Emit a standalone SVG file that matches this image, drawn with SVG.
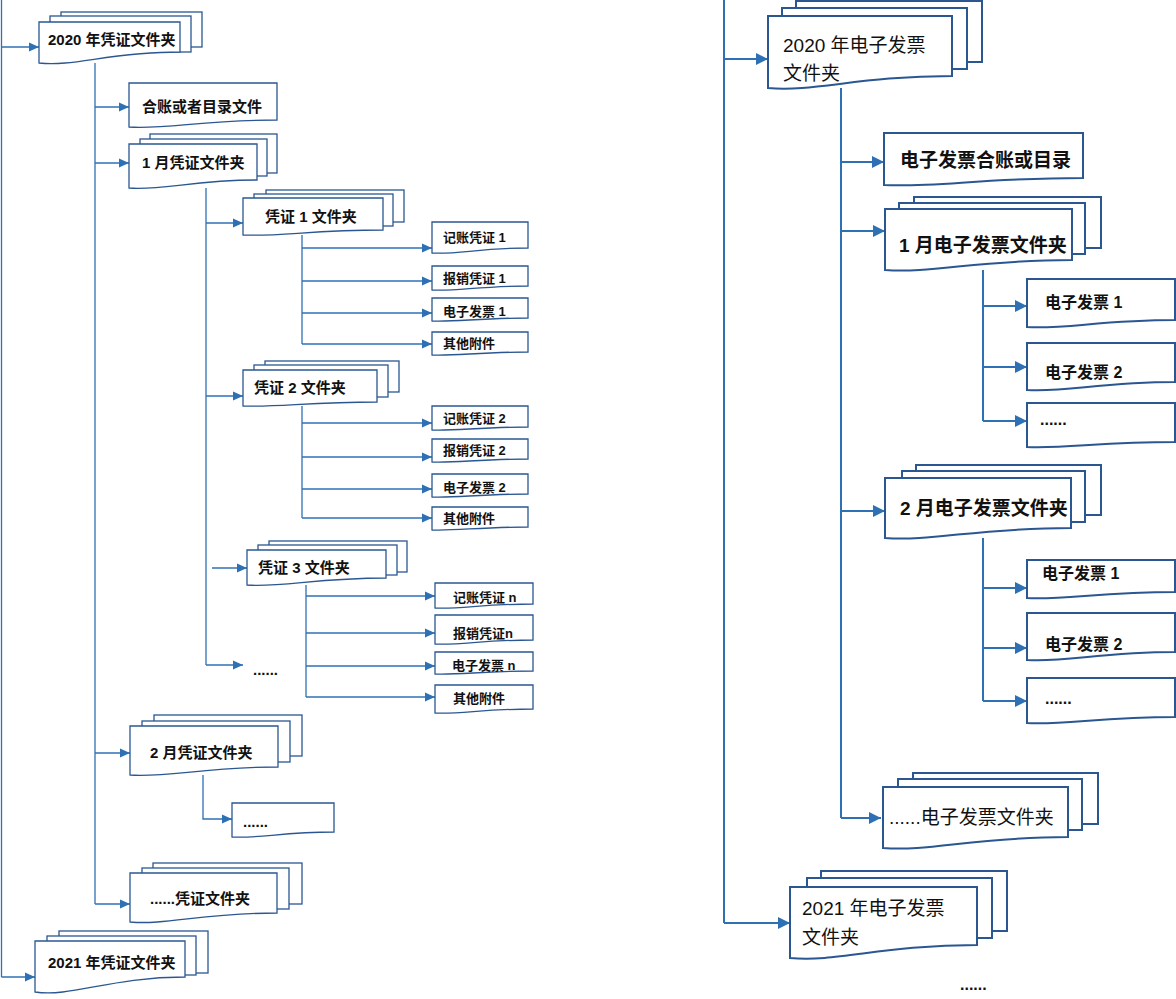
<svg xmlns="http://www.w3.org/2000/svg" width="1176" height="999" viewBox="0 0 1176 999">
<defs>
<style>
.b{fill:#fff;stroke:#2a5792;stroke-width:1.3}
.B{fill:#fff;stroke:#2a5792;stroke-width:2}
.c{fill:none;stroke:#2e70b4;stroke-width:1.3}
.C{fill:none;stroke:#2e70b4;stroke-width:2}
text{font-family:"Liberation Sans","Noto Sans CJK SC",sans-serif;fill:#111}
.s15{font-size:15px;font-weight:bold}
.s13{font-size:13px;font-weight:bold}
.s19{font-size:19px;font-weight:bold}
.r19{font-size:19px}
.s16{font-size:16px;font-weight:bold}
</style>
<marker id="a" markerUnits="userSpaceOnUse" markerWidth="11" markerHeight="10" refX="10" refY="5" orient="auto"><path d="M0,0.5 L10,5 L0,9.5 Z" fill="#2e70b4"/></marker>
<marker id="A" markerUnits="userSpaceOnUse" markerWidth="13" markerHeight="13" refX="12" refY="6.5" orient="auto"><path d="M0,0.5 L12,6.5 L0,12.5 Z" fill="#2e70b4"/></marker>
</defs>

<g id="connectors">
<path class="c" d="M1.5,0 V977"/>
<path class="c" d="M1.5,47 H39" marker-end="url(#a)"/>
<path class="c" d="M1.5,977 H35" marker-end="url(#a)"/>
<path class="c" d="M95,63 V904"/>
<path class="c" d="M95,107 H129" marker-end="url(#a)"/>
<path class="c" d="M95,163 H129" marker-end="url(#a)"/>
<path class="c" d="M95,753 H130" marker-end="url(#a)"/>
<path class="c" d="M95,904 H130" marker-end="url(#a)"/>
<path class="c" d="M206,188 V665"/>
<path class="c" d="M206,223 H243" marker-end="url(#a)"/>
<path class="c" d="M206,396 H243" marker-end="url(#a)"/>
<path class="c" d="M206,665 H243" marker-end="url(#a)"/>
<path class="c" d="M212,568 H247" marker-end="url(#a)"/>
<path class="c" d="M302,235 V344"/>
<path class="c" d="M302,248 H432" marker-end="url(#a)"/>
<path class="c" d="M302,281 H432" marker-end="url(#a)"/>
<path class="c" d="M302,313 H432" marker-end="url(#a)"/>
<path class="c" d="M302,344 H432" marker-end="url(#a)"/>
<path class="c" d="M302,406 V518"/>
<path class="c" d="M302,423 H432" marker-end="url(#a)"/>
<path class="c" d="M302,457 H432" marker-end="url(#a)"/>
<path class="c" d="M302,489 H432" marker-end="url(#a)"/>
<path class="c" d="M302,518 H432" marker-end="url(#a)"/>
<path class="c" d="M306,585 V697"/>
<path class="c" d="M306,596 H435" marker-end="url(#a)"/>
<path class="c" d="M306,633 H435" marker-end="url(#a)"/>
<path class="c" d="M306,666 H435" marker-end="url(#a)"/>
<path class="c" d="M306,697 H435" marker-end="url(#a)"/>
<path class="c" d="M203,775 V819 H232" marker-end="url(#a)"/>

<path class="C" d="M724,0 V923"/>
<path class="C" d="M724,59 H768" marker-end="url(#A)"/>
<path class="C" d="M724,923 H790" marker-end="url(#A)"/>
<path class="C" d="M841,88 V818"/>
<path class="C" d="M841,162 H884" marker-end="url(#A)"/>
<path class="C" d="M841,231 H885" marker-end="url(#A)"/>
<path class="C" d="M841,511 H885" marker-end="url(#A)"/>
<path class="C" d="M841,818 H881" marker-end="url(#A)"/>
<path class="C" d="M983,270 V421"/>
<path class="C" d="M983,306 H1027" marker-end="url(#A)"/>
<path class="C" d="M983,367 H1027" marker-end="url(#A)"/>
<path class="C" d="M983,421 H1027" marker-end="url(#A)"/>
<path class="C" d="M983,538 V701"/>
<path class="C" d="M983,588 H1027" marker-end="url(#A)"/>
<path class="C" d="M983,648 H1027" marker-end="url(#A)"/>
<path class="C" d="M983,701 H1027" marker-end="url(#A)"/>
</g>

<g id="n2020">
<rect class="b" x="61" y="12" width="141" height="35"/>
<rect class="b" x="50" y="16" width="141" height="36"/>
<path class="b" d="M39,22 H180 V52 C109.5,52 74.2,66.9 39,63 Z"/>
<text class="s15" x="48" y="45">2020 年凭证文件夹</text>
</g>

<g id="nhezhang">
<path class="b" d="M129,83 H277 V120 C203,120 166,129.5 129,127 Z"/>
<text class="s15" x="142" y="112">合账或者目录文件</text>
</g>

<g id="n1yue">
<rect class="b" x="150" y="134" width="127" height="39"/>
<rect class="b" x="140" y="139" width="127" height="37"/>
<path class="b" d="M129,144 H257 V180 C193,180 161,190.8 129,188 Z"/>
<text class="s15" x="142" y="168">1 月凭证文件夹</text>
</g>

<g id="npz1">
<rect class="b" x="266" y="190" width="138" height="32"/>
<rect class="b" x="254" y="194" width="139" height="32"/>
<path class="b" d="M243,198 H383 V230 C313,230 278,236.8 243,235 Z"/>
<text class="s15" x="265" y="222">凭证 1 文件夹</text>
</g>

<g id="l1a"><path class="b" d="M432,222 H528 V248 C480,248 456,254.8 432,253 Z"/><text class="s13" x="443" y="242">记账凭证 1</text></g>
<g id="l1b"><path class="b" d="M432,266 H528 V286 C480,286 456,291.4 432,290 Z"/><text class="s13" x="443" y="283">报销凭证 1</text></g>
<g id="l1c"><path class="b" d="M432,298 H528 V318 C480,318 456,322 432,321 Z"/><text class="s13" x="443" y="316">电子发票 1</text></g>
<g id="l1d"><path class="b" d="M432,332 H528 V352 C480,352 456,356 432,355 Z"/><text class="s13" x="443" y="348">其他附件</text></g>

<g id="npz2">
<rect class="b" x="265" y="361" width="134" height="31"/>
<rect class="b" x="254" y="365" width="134" height="32"/>
<path class="b" d="M243,370 H377 V402 C310,402 276.5,407.4 243,406 Z"/>
<text class="s15" x="254" y="393">凭证 2 文件夹</text>
</g>

<g id="l2a"><path class="b" d="M432,406 H528 V427 C480,427 456,431 432,430 Z"/><text class="s13" x="443" y="423">记账凭证 2</text></g>
<g id="l2b"><path class="b" d="M432,439 H528 V459 C480,459 456,463 432,462 Z"/><text class="s13" x="443" y="455">报销凭证 2</text></g>
<g id="l2c"><path class="b" d="M432,474 H528 V494 C480,494 456,498 432,497 Z"/><text class="s13" x="443" y="492">电子发票 2</text></g>
<g id="l2d"><path class="b" d="M432,507 H528 V527 C480,527 456,531 432,530 Z"/><text class="s13" x="443" y="523">其他附件</text></g>

<g id="npz3">
<rect class="b" x="269" y="541" width="138" height="31"/>
<rect class="b" x="258" y="545" width="139" height="30"/>
<path class="b" d="M247,550 H386 V578 C316.5,578 281.8,587.5 247,585 Z"/>
<text class="s15" x="258" y="573">凭证 3 文件夹</text>
</g>

<g id="ln3a"><path class="b" d="M435,583 H533 V604 C484,604 459.5,609.4 435,608 Z"/><text class="s13" x="453" y="602">记账凭证 n</text></g>
<g id="ln3b"><path class="b" d="M435,615 H533 V640 C484,640 459.5,645.4 435,644 Z"/><text class="s13" x="453" y="638">报销凭证n</text></g>
<g id="ln3c"><path class="b" d="M435,652 H533 V671 C484,671 459.5,675 435,674 Z"/><text class="s13" x="452" y="670">电子发票 n</text></g>
<g id="ln3d"><path class="b" d="M435,685 H533 V709 C484,709 459.5,714.4 435,713 Z"/><text class="s13" x="453" y="703">其他附件</text></g>

<g id="ndots1"><text class="s15" x="253" y="675">......</text></g>

<g id="n2yue">
<rect class="b" x="154" y="715" width="148" height="41"/>
<rect class="b" x="142" y="721" width="148" height="41"/>
<path class="b" d="M130,726 H278 V767 C204,767 167,777.8 130,775 Z"/>
<text class="s15" x="150" y="758">2 月凭证文件夹</text>
</g>

<g id="ndots2">
<path class="b" d="M232,803 H334 V832 C283,832 257.5,838.8 232,837 Z"/>
<text class="s15" x="243" y="827">......</text>
</g>

<g id="nmore">
<rect class="b" x="153" y="863" width="149" height="41"/>
<rect class="b" x="142" y="868" width="147" height="41"/>
<path class="b" d="M130,873 H277 V913 C203.5,913 166.8,925.2 130,922 Z"/>
<text class="s15" x="150" y="904">......凭证文件夹</text>
</g>

<g id="n2021">
<rect class="b" x="59" y="931" width="149" height="42"/>
<rect class="b" x="47" y="936" width="149" height="39"/>
<path class="b" d="M35,941 H185 V977 C110,977 72.5,997.3 35,992 Z"/>
<text class="s15" x="48" y="968">2021 年凭证文件夹</text>
</g>

<g id="e2020">
<rect class="B" x="796" y="1" width="186" height="61"/>
<rect class="B" x="782" y="8" width="185" height="61"/>
<path class="B" d="M768,16 H952 V76 C860,76 814,92.2 768,88 Z"/>
<text class="r19" x="783" y="52">2020 年电子发票</text>
<text class="r19" x="783" y="80">文件夹</text>
</g>

<g id="ehezhang">
<path class="B" d="M884,133 H1083 V178 C983.5,178 933.8,187.5 884,185 Z"/>
<text class="s19" x="900" y="167">电子发票合账或目录</text>
</g>

<g id="e1yue">
<rect class="B" x="914" y="197" width="187" height="51"/>
<rect class="B" x="899" y="203" width="186" height="51"/>
<path class="B" d="M885,209 H1072 V260 C978.5,260 931.8,273.5 885,270 Z"/>
<text class="s19" x="899" y="252">1 月电子发票文件夹</text>
</g>

<g id="e1a"><path class="B" d="M1027,279 H1175 V320 C1101,320 1064,329.5 1027,327 Z"/><text class="s16" x="1045" y="308">电子发票 1</text></g>
<g id="e1b"><path class="B" d="M1027,343 H1175 V382 C1101,382 1064,392.8 1027,390 Z"/><text class="s16" x="1045" y="378">电子发票 2</text></g>
<g id="e1c"><path class="B" d="M1027,403 H1175 V442 C1101,442 1064,448.8 1027,447 Z"/><text class="s16" x="1040" y="425">......</text></g>

<g id="e2yue">
<rect class="B" x="916" y="465" width="185" height="50"/>
<rect class="B" x="902" y="471" width="183" height="51"/>
<path class="B" d="M885,478 H1071 V528 C978,528 931.5,541.5 885,538 Z"/>
<text class="s19" x="900" y="515">2 月电子发票文件夹</text>
</g>

<g id="e2a"><path class="B" d="M1027,560 H1175 V592 C1101,592 1064,600 1027,598 Z"/><text class="s16" x="1042" y="579">电子发票 1</text></g>
<g id="e2b"><path class="B" d="M1027,613 H1175 V652 C1101,652 1064,662.8 1027,660 Z"/><text class="s16" x="1045" y="650">电子发票 2</text></g>
<g id="e2c"><path class="B" d="M1027,678 H1175 V717 C1101,717 1064,725.1 1027,723 Z"/><text class="s16" x="1045" y="704">......</text></g>

<g id="emore">
<rect class="B" x="913" y="773" width="185" height="51"/>
<rect class="B" x="898" y="779" width="184" height="51"/>
<path class="B" d="M883,787 H1068 V837 C975.5,837 929.2,851.8 883,848 Z"/>
<text class="r19" x="889" y="824">......电子发票文件夹</text>
</g>

<g id="e2021">
<rect class="B" x="821" y="871" width="186" height="60"/>
<rect class="B" x="807" y="878" width="185" height="60"/>
<path class="B" d="M790,887 H977 V945 C883.5,945 836.8,962.5 790,958 Z"/>
<text class="r19" x="802" y="915">2021 年电子发票</text>
<text class="r19" x="802" y="944">文件夹</text>
</g>

<g id="edots"><text class="s16" x="960" y="990">......</text></g>
</svg>
